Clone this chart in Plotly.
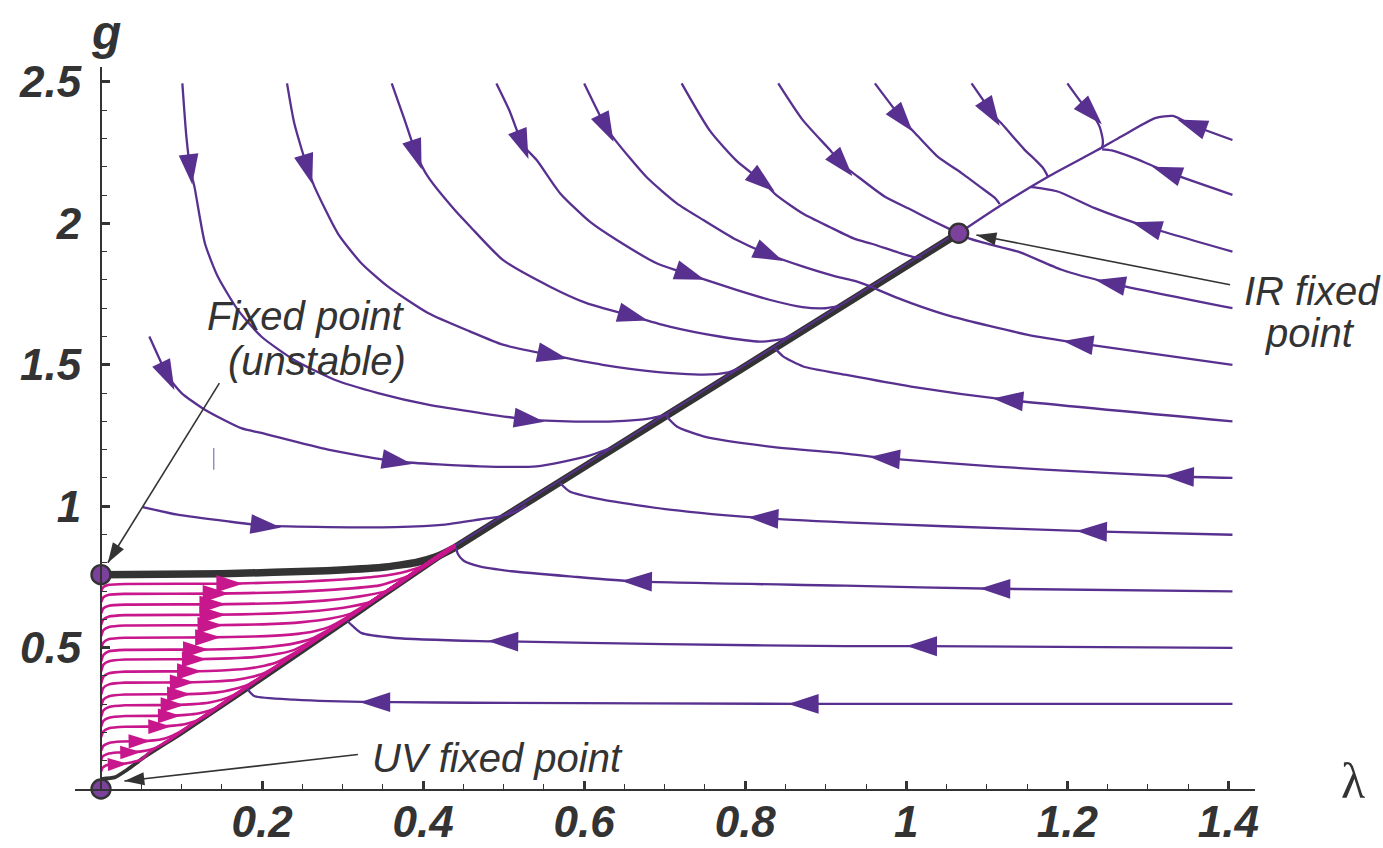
import math
import plotly.graph_objects as go

# ---------------- styling constants ----------------
PURPLE = "#58308f"
MAGENTA = "#c8168c"
DARK = "#333333"
FP_FILL = "#7b419c"

# ---------------- axes ----------------
x_range = [-0.0323, 1.433]
y_range = [0.0, 2.553]
x_tickvals = [0.2, 0.4, 0.6, 0.8, 1.0, 1.2, 1.4]
x_ticktext = ["0.2", "0.4", "0.6", "0.8", "1", "1.2", "1.4"]
y_tickvals = [0.5, 1.0, 1.5, 2.0, 2.5]
y_ticktext = ["0.5", "1", "1.5", "2", "2.5"]

# ---------------- fixed points (lambda, g) ----------------
fixed_lam = [0.0, 0.0, 1.065]
fixed_g = [0.0, 0.758, 1.965]

# ---------------- separatrices (black) ----------------
sep_thick = [(0.000, 0.758), (0.150, 0.761), (0.280, 0.772), (0.350, 0.784), (0.390, 0.800),
             (0.415, 0.820), (0.439, 0.853), (0.470, 0.908), (0.600, 1.139), (0.800, 1.494),
             (1.065, 1.965)]
sep_thin = [(0.000, 0.035), (0.017, 0.041), (0.033, 0.069), (0.054, 0.113), (0.100, 0.197),
            (0.187, 0.363), (0.300, 0.583), (0.439, 0.853), (0.600, 1.139), (0.800, 1.494),
            (1.065, 1.965)]
diag_purple = [(0.439, 0.859), (0.600, 1.145), (0.800, 1.500), (1.060, 1.962)]

# ---------------- purple flow lines entering from the top ----------------
top_flows = [
    [(0.101, 2.495), (0.106, 2.307), (0.111, 2.190), (0.116, 2.130), (0.129, 1.930), (0.145, 1.812),
     (0.170, 1.694), (0.199, 1.600), (0.240, 1.517), (0.290, 1.447), (0.344, 1.400), (0.406, 1.359),
     (0.470, 1.330), (0.532, 1.306), (0.600, 1.299), (0.650, 1.302), (0.680, 1.310), (0.705, 1.325)],
    [(0.231, 2.495), (0.240, 2.354), (0.257, 2.190), (0.265, 2.130), (0.294, 1.965), (0.323, 1.860),
     (0.356, 1.777), (0.406, 1.683), (0.458, 1.618), (0.499, 1.571), (0.561, 1.533), (0.623, 1.500),
     (0.686, 1.476), (0.748, 1.465), (0.777, 1.472), (0.792, 1.487)],
    [(0.361, 2.495), (0.377, 2.366), (0.392, 2.242), (0.406, 2.165), (0.439, 2.048), (0.458, 1.990),
     (0.499, 1.871), (0.557, 1.777), (0.603, 1.718), (0.661, 1.671), (0.706, 1.635), (0.768, 1.600),
     (0.818, 1.582), (0.847, 1.592), (0.860, 1.607)],
    [(0.491, 2.495), (0.507, 2.400), (0.524, 2.277), (0.541, 2.224), (0.570, 2.107), (0.607, 2.006),
     (0.640, 1.942), (0.690, 1.859), (0.732, 1.818), (0.789, 1.765), (0.830, 1.730), (0.871, 1.704),
     (0.900, 1.700), (0.917, 1.708)],
    [(0.600, 2.495), (0.628, 2.336), (0.640, 2.289), (0.677, 2.165), (0.715, 2.071), (0.748, 2.012),
     (0.789, 1.942), (0.830, 1.889), (0.872, 1.847), (0.913, 1.812), (0.936, 1.797), (0.957, 1.776)],
    [(0.721, 2.495), (0.756, 2.328), (0.789, 2.222), (0.822, 2.146), (0.839, 2.099), (0.872, 2.034),
     (0.905, 1.987), (0.936, 1.945), (0.957, 1.928), (0.990, 1.897), (1.008, 1.882), (1.019, 1.880)],
    [(0.841, 2.495), (0.871, 2.367), (0.905, 2.260), (0.921, 2.207), (0.940, 2.165), (0.973, 2.095),
     (1.006, 2.048), (1.035, 2.006), (1.056, 1.977)],
    [(0.961, 2.495), (0.986, 2.401), (0.996, 2.366), (1.011, 2.319), (1.039, 2.236), (1.069, 2.177),
     (1.097, 2.118), (1.110, 2.090), (1.116, 2.068)],
    [(1.081, 2.495), (1.098, 2.425), (1.106, 2.389), (1.118, 2.354), (1.147, 2.260), (1.160, 2.225),
     (1.170, 2.195), (1.176, 2.165)],
    [(1.200, 2.495), (1.218, 2.425), (1.230, 2.389), (1.240, 2.342), (1.244, 2.295), (1.243, 2.270),
     (1.238, 2.260)],
]
top_arrows = [[2, 13], [2, 10], [2, 9], [2, 8], [1, 7], [3], [3], [2], [2], [2]]

# ---------------- purple flow lines entering from the right ----------------
right_flows = [
    [(1.405, 2.295), (1.354, 2.349), (1.331, 2.380), (1.309, 2.372), (1.267, 2.307), (1.238, 2.260),
     (1.176, 2.165), (1.118, 2.065), (1.065, 1.965)],
    [(1.405, 2.101), (1.323, 2.183), (1.284, 2.230), (1.255, 2.258), (1.243, 2.262)],
    [(1.405, 1.900), (1.298, 1.989), (1.234, 2.054), (1.189, 2.112), (1.168, 2.124), (1.155, 2.128)],
    [(1.405, 1.700), (1.253, 1.789), (1.193, 1.836), (1.139, 1.900), (1.098, 1.930), (1.077, 1.948),
     (1.066, 1.965)],
    [(1.405, 1.500), (1.213, 1.577), (1.151, 1.606), (1.056, 1.671), (1.006, 1.718), (0.965, 1.765),
     (0.957, 1.776)],
    [(1.405, 1.300), (1.126, 1.376), (1.006, 1.423), (0.924, 1.465), (0.872, 1.494), (0.847, 1.530),
     (0.837, 1.558)],
    [(1.405, 1.100), (1.338, 1.105), (1.172, 1.129), (1.048, 1.153), (0.973, 1.170), (0.924, 1.186),
     (0.830, 1.211), (0.748, 1.247), (0.715, 1.282), (0.702, 1.318)],
    [(1.405, 0.899), (1.230, 0.911), (1.048, 0.929), (0.924, 0.943), (0.822, 0.958), (0.706, 0.988),
     (0.623, 1.023), (0.582, 1.052), (0.570, 1.082)],
    [(1.405, 0.699), (1.110, 0.708), (0.924, 0.719), (0.665, 0.734), (0.582, 0.752), (0.510, 0.770),
     (0.470, 0.787), (0.450, 0.808), (0.443, 0.832), (0.441, 0.852)],
    [(1.405, 0.499), (1.019, 0.505), (0.924, 0.505), (0.700, 0.512), (0.499, 0.522), (0.470, 0.523),
     (0.365, 0.534), (0.323, 0.552), (0.313, 0.575), (0.306, 0.594)],
    [(1.405, 0.301), (0.872, 0.301), (0.458, 0.305), (0.365, 0.307), (0.340, 0.307), (0.240, 0.316),
     (0.191, 0.328), (0.184, 0.346), (0.182, 0.355)],
]
right_arrows = [[1], [1], [1], [1], [1], [1], [1, 4], [1, 4], [1, 3], [1, 4], [1, 4]]

# ---------------- purple flow lines starting at the left ----------------
left_flows = [
    [(0.060, 1.600), (0.075, 1.506), (0.083, 1.459), (0.100, 1.400), (0.129, 1.341), (0.174, 1.276),
     (0.199, 1.259), (0.282, 1.200), (0.368, 1.158), (0.470, 1.141), (0.541, 1.141), (0.603, 1.176),
     (0.632, 1.205)],
    [(0.052, 0.997), (0.095, 0.970), (0.158, 0.946), (0.205, 0.931), (0.282, 0.926), (0.365, 0.926),
     (0.427, 0.935), (0.470, 0.953), (0.499, 0.966), (0.520, 0.988), (0.528, 1.005)],
]
left_arrows = [[2, 8], [3]]
stray_tick = [(0.140, 1.206), (0.140, 1.129)]

# ---------------- magenta flow lines (below the separatrix) ----------------
magenta_flows = [
    [(0.000, 0.700), (0.003, 0.714), (0.010, 0.722), (0.030, 0.725), (0.160, 0.726), (0.250, 0.733),
     (0.300, 0.741), (0.346, 0.752), (0.380, 0.770), (0.405, 0.795), (0.424, 0.826), (0.440, 0.856)],
    [(0.000, 0.660), (0.003, 0.678), (0.010, 0.687), (0.030, 0.690), (0.143, 0.691), (0.220, 0.695),
     (0.290, 0.705), (0.346, 0.720), (0.385, 0.757), (0.410, 0.800), (0.424, 0.828), (0.440, 0.857)],
    [(0.000, 0.620), (0.003, 0.639), (0.010, 0.648), (0.030, 0.652), (0.139, 0.653), (0.220, 0.657),
     (0.280, 0.667), (0.330, 0.685), (0.360, 0.705), (0.390, 0.764), (0.424, 0.830), (0.440, 0.858)],
    [(0.000, 0.580), (0.003, 0.600), (0.010, 0.610), (0.030, 0.615), (0.139, 0.616), (0.210, 0.620),
     (0.270, 0.630), (0.310, 0.645), (0.335, 0.662), (0.380, 0.746), (0.424, 0.831), (0.440, 0.859)],
    [(0.000, 0.540), (0.003, 0.562), (0.010, 0.573), (0.030, 0.578), (0.136, 0.579), (0.200, 0.582),
     (0.250, 0.590), (0.285, 0.603), (0.310, 0.620), (0.350, 0.690), (0.424, 0.832), (0.440, 0.860)],
    [(0.000, 0.495), (0.003, 0.518), (0.010, 0.530), (0.030, 0.535), (0.133, 0.536), (0.190, 0.539),
     (0.235, 0.546), (0.265, 0.558), (0.285, 0.575), (0.330, 0.650), (0.424, 0.832), (0.440, 0.860)],
    [(0.000, 0.450), (0.003, 0.474), (0.010, 0.487), (0.030, 0.492), (0.118, 0.493), (0.170, 0.496),
     (0.210, 0.503), (0.240, 0.515), (0.262, 0.532), (0.300, 0.592), (0.424, 0.833), (0.440, 0.860)],
    [(0.000, 0.415), (0.003, 0.440), (0.010, 0.452), (0.030, 0.458), (0.116, 0.459), (0.160, 0.462),
     (0.195, 0.468), (0.222, 0.479), (0.240, 0.492), (0.280, 0.553), (0.424, 0.833), (0.440, 0.860)],
    [(0.000, 0.372), (0.003, 0.397), (0.010, 0.409), (0.030, 0.415), (0.110, 0.416), (0.150, 0.419),
     (0.180, 0.425), (0.203, 0.436), (0.220, 0.450), (0.260, 0.514), (0.424, 0.834), (0.440, 0.861)],
    [(0.000, 0.333), (0.003, 0.358), (0.010, 0.370), (0.030, 0.376), (0.101, 0.377), (0.140, 0.380),
     (0.168, 0.386), (0.188, 0.397), (0.203, 0.410), (0.240, 0.475), (0.424, 0.834), (0.440, 0.861)],
    [(0.000, 0.292), (0.003, 0.316), (0.010, 0.328), (0.030, 0.334), (0.097, 0.335), (0.130, 0.338),
     (0.152, 0.345), (0.168, 0.355), (0.182, 0.368), (0.220, 0.435), (0.424, 0.834), (0.440, 0.861)],
    [(0.000, 0.255), (0.003, 0.278), (0.010, 0.290), (0.030, 0.296), (0.089, 0.297), (0.115, 0.300),
     (0.135, 0.306), (0.150, 0.316), (0.163, 0.330), (0.200, 0.397), (0.424, 0.835), (0.440, 0.861)],
    [(0.000, 0.220), (0.003, 0.241), (0.010, 0.252), (0.030, 0.258), (0.085, 0.259), (0.105, 0.262),
     (0.122, 0.268), (0.135, 0.278), (0.146, 0.291), (0.180, 0.357), (0.424, 0.835), (0.440, 0.861)],
    [(0.000, 0.183), (0.003, 0.204), (0.010, 0.215), (0.030, 0.220), (0.073, 0.221), (0.090, 0.224),
     (0.105, 0.230), (0.117, 0.240), (0.127, 0.252), (0.160, 0.318), (0.424, 0.835), (0.440, 0.862)],
    [(0.000, 0.135), (0.003, 0.153), (0.010, 0.163), (0.025, 0.168), (0.048, 0.169), (0.065, 0.172),
     (0.078, 0.178), (0.088, 0.188), (0.097, 0.200), (0.130, 0.262), (0.424, 0.835), (0.440, 0.862)],
    [(0.000, 0.100), (0.002, 0.115), (0.008, 0.124), (0.020, 0.129), (0.037, 0.130), (0.050, 0.133),
     (0.062, 0.140), (0.071, 0.150), (0.079, 0.162), (0.110, 0.222), (0.424, 0.835), (0.440, 0.862)],
    [(0.000, 0.062), (0.002, 0.075), (0.006, 0.083), (0.012, 0.087), (0.021, 0.088), (0.032, 0.091),
     (0.042, 0.097), (0.051, 0.106), (0.059, 0.128), (0.090, 0.184), (0.424, 0.835), (0.440, 0.862)],
]
magenta_arrow_index = 4
magenta_arrow_sizes = [28, 28, 28, 28, 27, 27, 27, 26, 26, 26, 25, 25, 24, 24, 23, 22, 21]

# ---------------- labels and pointers (lambda, g) ----------------
labels = [
    ("Fixed point", 0.254, 1.673),
    ("(unstable)", 0.268, 1.514),
    ("IR fixed", 1.505, 1.761),
    ("point", 1.501, 1.613),
    ("UV fixed point", 0.492, 0.111),
]
pointers = [  # (tail_lam, tail_g, head_lam, head_g)
    (0.147, 1.435, 0.0085, 0.800),
    (1.402, 1.783, 1.087, 1.959),
    (0.319, 0.122, 0.029, 0.028),
]

# ---------------- figure geometry ----------------
W, H = 1383, 848
M_L, M_R, M_T, M_B = 75, 128, 67, 58.5
PW = W - M_L - M_R
PH = H - M_T - M_B
SX = PW / (x_range[1] - x_range[0])
SY = PH / (y_range[1] - y_range[0])


def to_paper_x(lam):
    return (lam - x_range[0]) / (x_range[1] - x_range[0])


def to_paper_y(g):
    return (g - y_range[0]) / (y_range[1] - y_range[0])


fig = go.Figure()


def add_line(pts, color, width, smooth=0.6):
    fig.add_trace(go.Scatter(
        x=[p[0] for p in pts], y=[p[1] for p in pts], mode="lines",
        line=dict(color=color, width=width, shape="spline", smoothing=smooth),
        hoverinfo="skip", showlegend=False))


def add_arrow(p_prev, p, color, size):
    dxp = (p[0] - p_prev[0]) * SX
    dyp = (p[1] - p_prev[1]) * SY
    L = math.hypot(dxp, dyp) or 1.0
    shift = 0.47 * size
    tip = (p[0] + shift * dxp / L / SX, p[1] + shift * dyp / L / SY)
    fig.add_trace(go.Scatter(
        x=[p[0], tip[0]], y=[p[1], tip[1]], mode="markers",
        marker=dict(symbol="arrow", size=[0, size], angleref="previous", opacity=1,
                    color=color, line=dict(width=0)),
        cliponaxis=False, hoverinfo="skip", showlegend=False))


# black separatrices
add_line(sep_thin, DARK, 3.8, 0.4)
add_line(sep_thick, DARK, 7.5, 0.4)

# purple flows
for curve in top_flows + right_flows + left_flows:
    add_line(curve, PURPLE, 2.3)
add_line(stray_tick, "#8c7cc4", 1.3)
add_line(diag_purple, PURPLE, 1.8, 0.0)

# magenta flows
for curve in magenta_flows:
    add_line(curve, MAGENTA, 2.6, 0.5)

# arrows
for curve, idxs in zip(top_flows + right_flows + left_flows, top_arrows + right_arrows + left_arrows):
    for i in idxs:
        add_arrow(curve[i - 1], curve[i], PURPLE, 32)
for curve, s in zip(magenta_flows, magenta_arrow_sizes):
    i = magenta_arrow_index
    add_arrow(curve[i - 1], curve[i], MAGENTA, s)

# pointer lines
for tl, tg, hl, hg in pointers:
    fig.add_trace(go.Scatter(x=[tl, hl], y=[tg, hg], mode="lines",
                             line=dict(color=DARK, width=1.6), cliponaxis=False,
                             hoverinfo="skip", showlegend=False))
    fig.add_trace(go.Scatter(x=[tl, hl], y=[tg, hg], mode="markers",
                             marker=dict(symbol="arrow", size=[0, 21], angleref="previous",
                                         opacity=1, color=DARK, line=dict(width=0)),
                             cliponaxis=False, hoverinfo="skip", showlegend=False))

# fixed points
fig.add_trace(go.Scatter(x=fixed_lam, y=fixed_g, mode="markers",
                         marker=dict(size=19, color=FP_FILL, opacity=1,
                                     line=dict(color=DARK, width=2.4)),
                         cliponaxis=False, hoverinfo="skip", showlegend=False))

label_font = dict(family="Liberation Sans", size=40, color=DARK, style="italic")
annotations = []
for text, lx, ly in labels:
    annotations.append(dict(text=text, x=to_paper_x(lx), y=to_paper_y(ly), xref="paper",
                            yref="paper", showarrow=False, xanchor="center", yanchor="middle",
                            font=label_font))
annotations.append(dict(text="g", x=to_paper_x(0.0068), y=to_paper_y(2.675), xref="paper",
                        yref="paper", showarrow=False, xanchor="center", yanchor="middle",
                        font=dict(family="Liberation Sans", size=48, color=DARK,
                                  weight="bold", style="italic")))
annotations.append(dict(text="λ", x=to_paper_x(1.555), y=to_paper_y(0.03), xref="paper",
                        yref="paper", showarrow=False, xanchor="center", yanchor="middle",
                        font=dict(family="Liberation Serif", size=50, color=DARK)))

tick_font = dict(family="Liberation Sans", size=44, color=DARK, weight="bold", style="italic")

fig.update_layout(
    width=W, height=H,
    margin=dict(l=M_L, r=M_R, t=M_T, b=M_B, pad=0, autoexpand=False),
    paper_bgcolor="white", plot_bgcolor="white",
    showlegend=False,
    annotations=annotations,
    xaxis=dict(range=x_range, showgrid=False, zeroline=False, showline=True, automargin=False,
               linecolor=DARK, linewidth=2.2, ticks="inside", ticklen=8, tickwidth=3,
               tickcolor=DARK, tickvals=x_tickvals, ticktext=x_ticktext, tickfont=tick_font,
               ticklabelstandoff=-7,
               minor=dict(ticks="inside", dtick=0.05, tick0=0, ticklen=5, tickwidth=1,
                          tickcolor=DARK, showgrid=False)),
    yaxis=dict(range=y_range, showgrid=False, zeroline=False, showline=True, automargin=False,
               anchor="free", position=(0 - x_range[0]) / (x_range[1] - x_range[0]),
               linecolor=DARK, linewidth=2.2, ticks="inside", ticklen=8, tickwidth=3,
               tickcolor=DARK, tickvals=y_tickvals, ticktext=y_ticktext, tickfont=tick_font,
               ticklabelstandoff=10,
               minor=dict(ticks="inside", dtick=0.1, tick0=0, ticklen=5, tickwidth=1,
                          tickcolor=DARK, showgrid=False)),
)

fig.write_html("out.html")
